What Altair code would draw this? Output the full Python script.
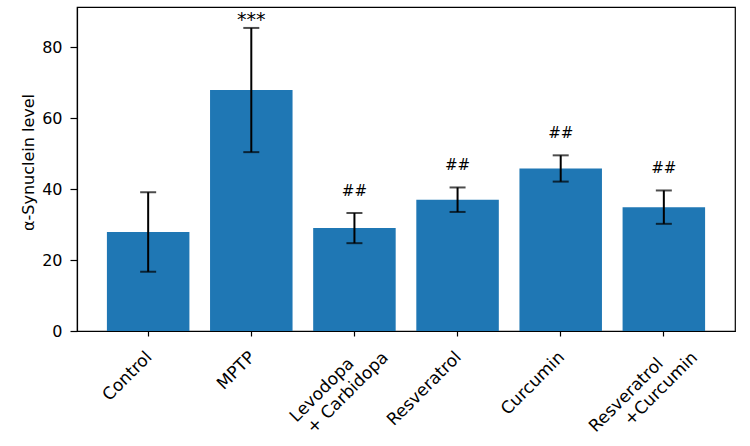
import altair as alt
import pandas as pd

groups = ["Control", "MPTP", "Levodopa\n+ Carbidopa", "Resveratrol", "Curcumin", "Resveratrol\n+Curcumin"]
means = [27.9, 67.9, 29.0, 37.0, 45.8, 34.9]
errs = [11.2, 17.5, 4.25, 3.45, 3.7, 4.7]
marks = ["", "***", "##", "##", "##", "##"]

df = pd.DataFrame({
    "group": groups,
    "mean": means,
    "low": [m - e for m, e in zip(means, errs)],
    "high": [m + e for m, e in zip(means, errs)],
    "mark": marks,
    "line1": [g.split("\n")[0] for g in groups],
    "line2": [g.split("\n")[1] if "\n" in g else "" for g in groups],
})

FONT = "DejaVu Sans"
FS = 16
XFS = 17

x = alt.X("group:N", sort=groups,
          scale=alt.Scale(paddingInner=0.2, paddingOuter=0.29),
          axis=alt.Axis(title=None, labels=False,
                        tickColor="black", tickSize=5, tickWidth=1.2,
                        domainColor="black", domainWidth=1.2))
xs = alt.X("group:N", sort=groups)
yscale = alt.Scale(domain=[0, 91.3], nice=False, zero=True)

bars = alt.Chart(df).mark_bar(color="#1f77b4").encode(
    x=x,
    y=alt.Y("mean:Q", scale=yscale,
            axis=alt.Axis(title="α-Synuclein level", values=[0, 20, 40, 60, 80], grid=False,
                          labelFontSize=FS, labelFont=FONT, labelColor="black",
                          titleFontSize=FS, titleFont=FONT, titleFontWeight="normal",
                          titleColor="black", titleX=-49, titleY=155, titleBaseline="middle",
                          tickColor="black", tickSize=7, tickWidth=1.2, labelPadding=8,
                          domainColor="black", domainWidth=1.2)),
)

label_base = alt.Chart(df)
single_labels = label_base.transform_filter("datum.line2 == ''").mark_text(
    font=FONT, fontSize=XFS, angle=315, align="right", baseline="top",
    dx=-16, dy=9.5, color="black").encode(
    x=xs, y=alt.Y(datum=0, scale=yscale), text="line1:N")
first_lines = label_base.transform_filter("datum.line2 != ''").mark_text(
    font=FONT, fontSize=XFS, angle=315, align="right", baseline="top",
    dx=-23.5, dy=11, color="black").encode(
    x=xs, y=alt.Y(datum=0, scale=yscale), text="line1:N")
second_lines = label_base.transform_filter("datum.line2 != ''").mark_text(
    font=FONT, fontSize=XFS, angle=315, align="right", baseline="top",
    dx=5, dy=31, color="black").encode(
    x=xs, y=alt.Y(datum=0, scale=yscale), text="line2:N")

rules = alt.Chart(df).mark_rule(color="black", strokeWidth=2).encode(
    x=xs,
    y=alt.Y("low:Q", scale=yscale),
    y2="high:Q",
)

caps_hi = alt.Chart(df).mark_tick(color="black", thickness=2, size=16, orient="horizontal").encode(
    x=xs,
    y=alt.Y("high:Q", scale=yscale),
)
caps_lo = alt.Chart(df).mark_tick(color="black", thickness=2, size=16, orient="horizontal").encode(
    x=xs,
    y=alt.Y("low:Q", scale=yscale),
)

stars = alt.Chart(df).transform_filter("datum.mark == '***'").mark_text(
    font=FONT, fontSize=19, baseline="alphabetic", dy=-2, color="black").encode(
    x=xs,
    y=alt.Y("high:Q", scale=yscale),
    text="mark:N",
)
hashes = alt.Chart(df).transform_filter("datum.mark == '##'").mark_text(
    font=FONT, fontSize=15, baseline="alphabetic", dy=-17, color="black").encode(
    x=xs,
    y=alt.Y("high:Q", scale=yscale),
    text="mark:N",
)

chart = alt.layer(bars, rules, caps_hi, caps_lo, stars, hashes,
                  single_labels, first_lines, second_lines).properties(
    width=658, height=324,
    padding={"left": 77, "top": 7, "right": 15, "bottom": 115},
    autosize=alt.AutoSizeParams(type="none"),
    background="white",
).configure_view(stroke="black", strokeWidth=1.2)

chart.save("out.html", embed_options={"renderer": "svg", "actions": False})
